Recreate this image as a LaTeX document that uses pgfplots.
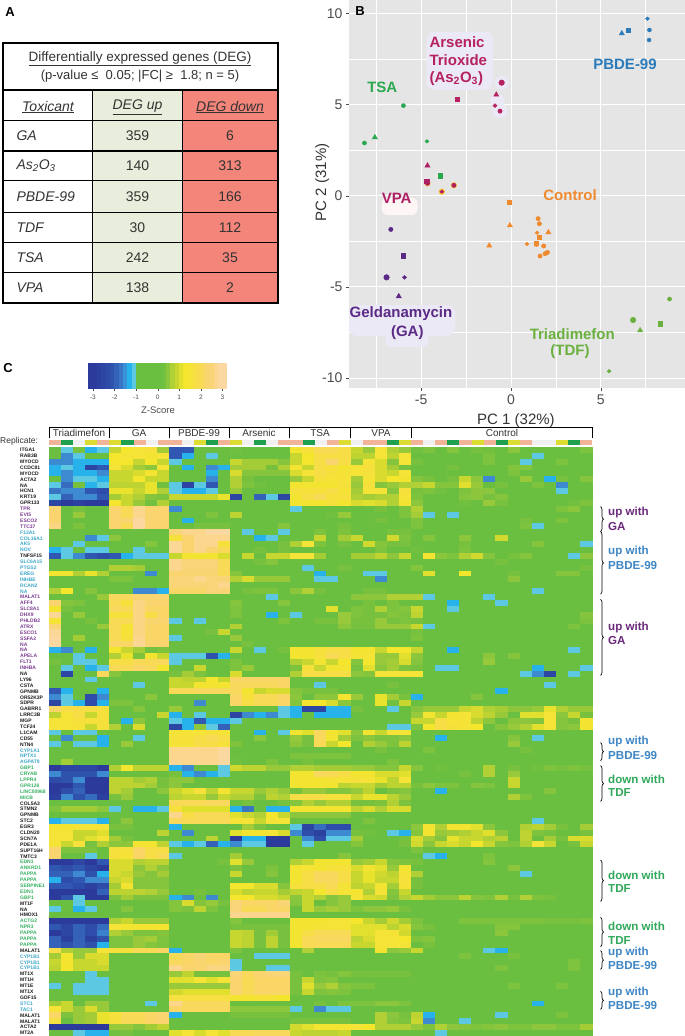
\documentclass[border=0pt]{standalone}
\usepackage{fontspec}
\setmainfont{Liberation Sans}
\usepackage{pgfplots}
\usepackage{pgfplotstable}
\pgfplotsset{compat=1.18}
\usetikzlibrary{decorations.pathreplacing}

\definecolor{tk}{HTML}{333333}
\definecolor{cPBDE}{HTML}{2B7BBA}
\definecolor{cAs}{HTML}{B5225F}
\definecolor{cTSA}{HTML}{2AA84F}
\definecolor{cVPA}{HTML}{AE1F63}
\definecolor{cGA}{HTML}{5B2A86}
\definecolor{cCtl}{HTML}{F08A2E}
\definecolor{cTDF}{HTML}{6AB03F}
\definecolor{halo}{HTML}{ECE9F6}
\definecolor{lblP}{HTML}{6B2A7A}
\definecolor{lblB}{HTML}{3F86C4}
\definecolor{lblG}{HTML}{2FA85A}
\definecolor{gk}{HTML}{1A1A1A}
\definecolor{gp}{HTML}{7A3A90}
\definecolor{gb}{HTML}{3AA6C9}
\definecolor{gg}{HTML}{35B060}
\definecolor{repS}{HTML}{F2B498}
\definecolor{repG}{HTML}{1FA04F}
\definecolor{repW}{HTML}{F0F0F0}
\definecolor{repY}{HTML}{DCDC32}

\pgfplotsset{
  colormap={heat}{
    rgb255(0pt)=(43,58,155)
    rgb255(5pt)=(48,88,178)
    rgb255(10pt)=(62,138,208)
    rgb255(15pt)=(40,178,236)
    rgb255(18pt)=(92,200,226)
    rgb255(19pt)=(106,190,64)
    rgb255(30pt)=(106,190,64)
    rgb255(35pt)=(140,198,60)
    rgb255(40pt)=(200,214,48)
    rgb255(45pt)=(243,230,45)
    rgb255(50pt)=(248,222,70)
    rgb255(55pt)=(250,212,110)
    rgb255(60pt)=(251,216,160)
  },
}
\pgfdeclareplotmark{cell}{\pgfpathrectangle{\pgfpoint{-6.3pt}{-3.1pt}}{\pgfpoint{12.6pt}{6.2pt}}\pgfusepathqfill}
\pgfdeclareplotmark{barcell}{\pgfpathrectangle{\pgfpoint{-2.4pt}{-13pt}}{\pgfpoint{4.8pt}{26pt}}\pgfusepathqfill}

% one line per gene: Triadimefon, GA, PBDE-99, Arsenic, TSA, VPA (5 each), Control (15)
\pgfplotstableread[header=false]{
0 -1.2 .2 -1.5 -1.2  1 1.5 1.7 1.8 .7  -2.5 -2.5 0 0 0  .1 0 0 0 0  1.6 1.8 2.2 2.2 2  1 .6 1.7 .8 .6  .1 .3 0 .4 0 .2 .1 0 .5 0 0 0 0 0 .3
0 -2 -1.2 0 0  1.5 1.7 1.7 1.6 1.7  -2.5 -1.5 0 -1.2 0  0 0 0 0 0  1 1.5 2 2 2  .9 .9 1.7 .9 1.7  0 0 0 0 0 0 .3 0 0 0 -1.2 0 0 0 0
-2 -2 -1.5 -1.5 -1.5  1.5 1.5 1 1.5 1  -1.2 0 0 0 0  1 .7 .7 .7 .4  1 1.5 2 2.5 2  .6 1.7 1.2 .4 1.7  .2 0 0 0 0 0 .3 0 0 -1.2 0 0 .3 0 0
-1.5 -1.2 -1.5 -2.8 -2.5  1.7 1.2 .7 .5 1.7  0 -1.5 0 -2 -1.5  .7 .7 .7 .2 .8  1.6 1 2 1.8 1.6  1.7 1.8 1.2 .7 .2  0 0 0 .2 0 0 0 0 .4 .4 0 0 0 0 0
-1.5 -2 -1.5 -1.5 -2  1 1 1.2 1.6 1  0 0 0 -1.5 0  1.2 .4 .4 .4 .4  1.2 1.7 2 1.8 1.7  1.7 1.8 1.2 1 1.7  0 0 0 0 0 0 0 0 .3 0 0 0 0 0 0
0 -2 -1.2 -1.2 -1.5  1 1 1.5 1 1  0 0 0 -2 0  .8 .2 0 0 0  .6 1 1.8 1.7 1.7  .7 1.7 1.2 1.5 1.6  .4 .2 0 .2 1 .5 -2 0 0 .6 0 -1.5 .2 0 .4
-1.2 -2.3 .2 -1.5 -1.2  .9 .9 .9 1.4 .1  -1.2 -2.8 -1.2 -2.5 0  .8 .3 .1 0 0  1.6 1.6 1.6 1.6 1.8  .6 1.8 .4 .6 .8  .8 1 .4 .4 1.3 .6 0 .2 0 0 .3 0 -2 0 0
-2.2 -2 -2 -2.5 -2.7  1.4 1.4 1 1.4 .8  -1.2 -1.5 -1.5 -1.2 0  .6 0 0 0 0  1.8 1.8 1.8 2 1.7  .7 1.7 1.7 .4 1.8  .2 .3 .1 0 .3 .5 .5 0 0 0 0 0 -1.2 0 0
-1.2 -2.4 -2 -2 -2.5  .7 1 .8 .4 .3  1 1 1 1 1.4  -2.8 0 -2.4 -1.2 -2.8  1.6 2 2.2 1.8 1.8  .8 .7 .8 .8 1.7  .3 0 0 0 .4 .5 .2 .4 0 0 0 0 0 0 0
-2.8 -3 -2.9 -3 -3  1.5 1 .6 .1 .8  0 0 0 0 0  0 0 0 0 0  1.6 1.6 1.6 1.8 1.6  1.2 1.3 1.2 .8 1.6  .5 0 0 0 .1 0 .6 .2 0 0 0 0 0 .1 .3
2.5 0 .2 0 0  2.5 2.2 2.8 2.5 2.5  -2 0 0 0 0  0 0 0 0 0  -1.2 0 0 0 0  0 0 .2 0 .3  .8 0 0 0 0 0 0 0 0 0 0 0 .3 .5 0
2.5 0 .6 0 0  2.5 2.2 2.8 2.5 2.5  0 0 0 .3 0  .9 0 0 0 0  0 0 0 .1 .6  0 0 0 0 .3  .7 -1.2 0 -1.2 0 0 0 0 0 0 0 0 0 0 0
2.5 0 0 0 0  2.5 2.5 3 2.5 2.5  0 -1.5 0 0 0  0 0 0 0 0  0 0 0 0 0  0 0 .2 0 0  .3 0 0 0 0 0 0 0 0 .2 0 0 .3 0 0
2.7 0 .3 0 0  2.5 2.2 3 2.5 2.5  0 0 .2 .2 .2  0 0 0 0 .4  0 0 0 0 .2  0 0 0 0 0  .3 0 0 0 0 0 0 0 0 .3 -1.2 0 0 0 0
0 0 0 0 0  0 0 0 0 0  2.6 2.8 2.8 3 3  0 -1.2 0 0 -1.2  0 0 .3 0 .3  0 0 0 .2 .2  0 0 0 0 0 0 0 0 0 0 0 0 0 0 0
0 0 0 -2 -1.2  .5 0 0 0 0  1.8 2.5 2.8 2.8 2.8  0 0 -1.5 -1.2 0  0 0 1 0 .7  1 0 0 1.1 .3  0 .4 0 0 .5 0 0 1.1 0 0 0 0 0 0 0
0 0 -1.2 0 0  0 0 0 .4 0  2.9 2.5 2.8 2.8 1.8  0 0 0 0 .2  .8 1.7 .3 0 .2  0 1.1 .4 .2 .2  0 0 0 0 .2 0 0 0 0 0 .4 0 0 0 -1.2
-1.5 -1.2 0 -1.2 -1.2  0 0 -1.2 0 0  2.9 2.5 2.8 2.5 2.2  0 0 .2 0 .2  0 0 0 0 0  0 0 .3 0 0  .1 0 0 0 .3 0 0 0 0 0 0 0 0 0 0
-2.5 -1.2 -2 -2.5 -2.7  -2.5 -1.5 -1.2 -1.2 -1.2  1 1.6 1.6 1.6 1.2  0 1 0 1 1  1.7 1.7 .7 0 0  .7 .7 .9 .5 1  0 1.6 .5 .3 .8 1.1 .4 0 .2 .4 0 0 0 -1.2 .5
0 0 0 0 0  0 0 0 0 0  2.8 2.6 2.6 2.6 2.2  0 0 .2 .4 0  0 0 0 0 0  0 0 0 0 0  0 0 0 0 0 0 0 .2 0 0 0 0 0 0 0
0 0 0 0 0  .8 .8 .7 0 0  2.8 2.6 2.6 2.6 2.2  0 0 0 0 0  0 -1.2 0 0 .2  0 0 0 0 0  .4 0 0 0 0 0 0 0 0 0 0 0 0 0 .2
1.6 1.6 .8 1.4 .8  0 0 0 -2 0  2.5 2.5 2.5 2.5 2.2  .4 0 0 0 0  0 0 -1.5 0 0  0 -1.2 -1.2 0 0  0 1.3 0 0 1.5 0 0 0 .2 0 0 0 .4 .4 0
0 0 0 0 0  .3 .3 0 0 0  2.6 2.6 2.8 2.6 2.6  .8 1.2 .6 .6 .6  0 0 -1.2 -1.2 0  0 0 -2 0 0  0 0 0 0 0 0 0 0 .5 0 0 0 0 0 0
0 0 0 0 0  0 0 0 0 0  2.6 2.6 2.6 2.6 2.8  0 0 0 0 0  0 0 0 0 0  0 0 0 0 0  0 0 0 0 0 0 0 0 0 0 0 0 0 0 0
.8 1.5 0 .4 0  0 0 -2 -2 -1.5  2.4 2.4 2.4 2.6 2.6  0 .2 .3 .3 0  .5 .8 .2 0 0  0 .2 .2 0 0  0 0 0 0 0 0 0 0 0 0 -1.2 0 0 0 0
0 0 0 0 .6  2.3 2.3 2.5 2.5 2.5  0 0 0 0 0  0 0 0 -1.2 0  0 0 0 0 0  .5 .5 .5 .8 .8  .8 -1.2 0 0 0 0 -1.2 0 0 0 0 0 0 0 0
2.5 .4 .3 0 0  2.2 1.8 2.7 2.5 2.5  0 0 0 0 0  .4 0 0 0 .4  0 0 0 0 0  0 .2 0 .3 0  0 0 0 -1.5 0 0 0 -1.2 0 0 0 0 0 0 0
1.6 .2 0 0 0  2.3 2.2 2.7 2.4 2.4  0 0 0 0 0  .3 0 0 0 0  0 0 0 1.3 0  .3 .2 .8 .3 .4  1 0 0 -1.2 0 0 0 0 0 0 0 0 0 0 0
2.9 0 .6 0 0  1.8 1.8 2.7 2 2.4  0 0 0 0 0  .3 0 0 -1.5 0  -1.2 0 0 0 .6  .3 .2 .2 .4 .3  .9 0 0 0 0 0 0 0 0 0 0 0 0 0 .4
1.7 0 0 .2 0  2.2 2.2 2.7 2.5 2.5  -1.2 0 -1.2 0 0  0 0 0 0 .3  0 0 .2 .2 .6  .2 .2 .6 .2 .3  .2 0 0 0 0 0 0 0 0 0 0 0 0 0 .3
2.6 0 0 0 .6  2.2 1.7 2.7 2.4 2.4  0 0 0 0 0  .8 0 0 0 0  0 0 0 0 .5  .2 .2 .6 .6 .6  1 -1.2 0 0 0 0 0 0 0 0 0 0 0 .3 0
2.9 0 0 0 0  2.2 1.7 2.7 2.4 2.4  0 0 0 .2 1  0 0 0 0 0  0 0 0 0 0  0 0 0 0 0  .2 0 0 0 0 0 0 0 0 0 0 0 0 0 0
3 0 .7 0 0  2.2 1.8 2.8 2.4 2.4  -1.2 0 0 0 0  .6 0 0 0 0  0 0 0 0 0  0 0 0 0 0  .3 0 0 0 0 0 0 0 0 0 0 0 0 0 0
3 0 0 0 0  2.4 2.4 2.9 2.5 2.5  0 0 0 0 0  0 .2 0 0 0  0 0 0 0 0  0 0 0 0 0  0 0 0 0 0 0 0 0 0 0 0 0 0 0 0
-1.5 -2 0 -1.5 0  1.5 1 .7 .1 .3  0 0 0 0 0  1 0 -1.2 0 .2  1.6 1.6 1.8 2 2  1.6 1.6 1 1.5 1.5  1 0 0 -1.5 0 0 0 0 0 0 0 0 0 -1.2 0
0 0 -1.2 0 0  .8 1.4 .3 1.6 1  -1.2 -1.2 -1.2 -2.6 -1.5  0 0 0 0 0  1.6 1.6 1.8 2.2 2  1.7 1.7 .6 .6 1.3  .5 0 0 0 0 0 .5 0 .4 0 0 0 0 0 0
.2 0 -1.2 -1.2 0  2 2 2.2 2.2 2.3  -1.2 0 0 0 0  .3 0 0 0 0  .8 1 1.6 1 1.5  .4 1.5 .6 .7 1.2  .4 0 0 0 0 0 .6 0 0 0 0 0 0 0 0
0 -1.2 0 -1.5 -1.2  2.2 2.2 2.4 2.3 1.6  0 0 1 0 0  .3 .6 0 0 0  .3 1.8 1 1.6 1.6  .2 1.3 .5 .7 .3  .2 0 -1.2 -1.2 0 0 0 0 0 0 -1.5 0 0 0 -1.2
0 -2.8 0 0 2.3  .4 0 0 0 0  .2 .7 .3 0 0  1.2 0 0 0 0  .8 2 2 2 2  .5 .4 1.7 1.7 1.7  1.7 0 0 0 0 0 0 0 0 -1.2 -2 -2.8 0 -1.2 0
0 0 0 -1.2 0  0 0 0 0 0  1 .9 .9 1.5 1  2.4 2.4 2.4 2.4 2.4  0 0 0 0 0  0 0 0 0 0  0 0 0 0 0 0 0 0 0 0 0 0 0 0 0
0 0 0 0 0  0 0 -1.2 0 0  1 1 1.6 1.6 1.6  2.3 2.3 2.3 2.3 2.4  0 0 -1.2 0 0  0 0 0 .2 0  0 0 0 0 0 0 0 0 0 0 0 -1.2 0 0 0
-2.5 -1.5 0 0 -1.5  0 0 0 0 0  2.2 2.2 2.3 2.3 2.3  2.3 1.6 1 1.2 1.2  .4 .2 .2 .2 0  0 0 0 0 0  0 0 0 0 0 0 0 -1.5 0 0 0 0 0 0 0
-2 -1.2 0 -2.7 -2  0 0 0 .5 0  0 0 0 0 0  2.4 1.8 2.2 2.2 2.4  .5 0 .5 .5 1.6  .6 0 1.4 .7 .2  -1.5 0 0 0 0 .4 0 0 0 0 0 0 0 0 0
-2.8 -1.2 -1.5 -2.7 -1.5  .3 .3 0 0 0  0 0 -2 0 0  2.4 2 2.2 2.2 2.4  .4 1.6 1.5 1.2 .5  0 0 1.4 .1 1  0 0 0 0 0 0 0 0 0 0 0 0 0 0 0
2.4 2 2 2 1.8  0 0 .4 0 0  .6 0 0 0 0  0 0 0 0 -1.2  -1.5 -2.8 -2.8 -1.5 -1.5  .2 0 0 -1.2 0  .4 .6 .6 .6 1 1.2 .8 .7 .5 .5 .6 1.4 .8 .6 .6
.9 1.7 2 1 1.8  0 0 0 0 1  -1.5 0 -1.2 0 0  -2.8 -2 -1.5 -2 -1.2  -1.5 0 -1.5 -1.5 -1.5  0 0 0 0 0  .6 1.6 1 1.6 1.7 1.2 .9 .6 0 1.3 1.3 1.7 .5 1 .2
1.7 1.7 1.8 1.8 1.8  0 -1.5 .5 0 0  -1.2 -1.5 -2.5 -1.5 -1.5  -1.2 0 0 0 0  0 0 0 0 0  0 0 0 0 0  1 1 2 1.7 1.7 .9 .5 0 .5 .5 .4 1.7 .4 .2 1.6
1.7 1.7 1.7 1 1.8  .8 0 1.2 0 0  -2.8 -1.5 .5 -1.2 -2.4  0 0 0 0 0  0 0 0 0 0  0 0 0 -1.2 -1.2  .3 1.5 2 1.8 1.7 1.5 0 .4 .6 .8 1.3 1.7 .4 .5 1.6
-1.2 0 -1.2 -1.2 0  0 0 0 0 0  1.7 1.7 1.7 1.8 1.7  0 0 -1.5 0 -1.2  1.6 1.3 2.3 1.6 1.3  .5 1.6 1 1.7 1.7  0 0 0 0 0 0 0 0 0 0 0 0 0 0 0
0 -2 0 0 -1.5  0 0 -1.2 0 0  1.8 1.8 2 2.2 2  0 0 .5 0 0  .6 .2 2.3 1.6 .7  .3 .5 .3 .3 .5  0 0 -1.5 0 0 0 0 0 .4 0 -1.2 0 0 0 0
-1.2 0 -1.2 -1.2 -1.5  0 .6 0 0 0  1.7 1.7 2 2 1.8  .3 0 0 0 0  .5 .2 2.2 1 1.5  0 .8 .6 .3 .9  0 0 0 0 0 0 0 0 .6 0 0 0 0 0 0
0 0 0 0 0  0 0 0 0 0  2.8 2.8 2.8 2.8 3  0 0 0 0 0  0 0 0 0 0  0 0 .2 0 0  0 .3 0 0 0 0 0 0 0 .2 0 0 0 0 0
0 0 0 0 0  0 0 0 0 0  2.8 2.8 2.8 2.8 3  0 0 0 0 0  .3 .3 .3 .3 .3  0 0 0 0 0  0 0 0 0 0 0 0 0 0 0 0 0 0 0 0
0 .7 0 0 0  0 0 0 0 0  2.9 2.8 2.8 2.8 3  .1 0 0 .3 0  0 .2 0 0 0  0 0 0 .3 0  0 0 0 0 0 0 0 0 0 0 0 0 0 0 0
-3 -2.8 -2.8 -2.8 -3  .8 1.5 .9 .9 .9  -1.5 -2 0 0 -1.2  1.1 .9 .9 .6 .6  .8 .8 .7 .7 .7  .6 .6 .4 .4 1  .4 0 .1 0 0 0 .8 0 .2 0 .1 .3 .2 .3 .2
-2 -2.6 -2.6 -2.6 -2  0 0 0 0 0  .2 -1.5 -2 -1.5 -1.2  0 0 0 0 0  1.6 1.6 2.3 2.2 2  1.6 1.6 1.2 1.2 1.3  0 0 0 0 .2 0 .8 0 .6 0 0 0 0 0 0
-2.7 -2.6 -2 -3 -3  .9 .9 .7 .8 .2  .5 .5 0 0 0  0 0 0 0 0  1.6 1.6 1.6 1.7 1.7  1.8 1.7 1.4 .9 1.7  0 0 0 0 0 0 0 0 1 0 0 0 0 0 0
-3 -3 -2.5 -3 -3  .9 .9 .9 .7 .2  .5 0 0 0 0  0 0 0 0 0  1.6 1.6 1.6 1.6 .9  1 1 .7 .9 .9  .2 .5 .3 .3 0 .4 .3 0 1 0 0 0 0 0 0
-3 -2.7 -2.4 -3 -3  .9 .7 0 0 .5  1 1.3 1.8 .9 1.6  1 1 .6 .8 .6  .2 .6 .6 .4 .4  .6 .9 0 .3 .4  0 0 -1.5 0 0 0 0 0 0 0 0 .4 0 0 0
-2.9 -2 -2.6 -2.3 -2.9  .2 .6 0 0 0  .9 1 1 .6 1  .8 .8 .3 .9 .8  2 2 2 1.8 1.8  1 1.4 1.4 .9 .6  0 0 0 0 0 0 0 0 .8 .3 0 0 0 0 0
0 0 0 0 0  0 0 0 0 0  2.2 2.2 2.2 2.3 2.3  0 .2 0 0 .2  .4 .8 .6 .8 .8  .2 .2 .3 .8 .3  0 0 0 0 0 0 0 0 0 0 0 0 0 0 0
.3 .7 .7 .7 .5  -1.2 0 -1.5 -1.5 -1.2  1.8 1.3 1.3 1.3 1.3  -1.5 -2.2 0 -1.5 -1.5  1.6 1.6 1.6 1.6 1.6  .9 1.2 .8 1.2 1.2  0 0 0 0 0 0 0 0 0 0 0 0 0 0 0
0 0 0 0 0  0 0 0 0 0  2.8 2 2.2 2.2 2.2  1.3 1 .8 1.5 1  .5 .5 .5 .5 .5  0 0 0 0 0  0 0 0 0 0 0 0 0 0 0 0 0 0 0 0
-1.5 -1.2 -1.2 -1.2 -1.5  0 .5 0 0 0  2.3 2.2 2.2 2.2 2.2  1.7 1.7 1 1.7 1.7  0 0 0 0 0  0 .3 0 0 0  0 0 0 0 0 0 0 0 0 0 -1.2 0 0 0 0
1.6 1.6 1.7 1.7 1.7  .2 .2 0 0 0  -1.5 0 0 0 0  0 .7 .3 0 0  -1.2 -2.8 -2.3 -2.7 -2.7  0 0 0 0 0  .5 1.6 .8 1.6 1.6 1.3 .5 0 0 .8 .9 .7 .2 0 .7
1.7 1.7 1 1 1.3  0 0 0 0 .9  0 -2 0 0 0  1.3 1.6 1.6 1.7 1.2  -2 -2.7 -2.9 -2 -2  .2 .1 0 -1.2 -1.5  .4 1.6 .6 .7 .8 1 1.3 .5 0 .9 .3 .2 0 0 .2
1.7 1.7 1 1.3 1.7  .7 .2 0 0 0  0 0 0 .9 0  -3 -1.5 -1.5 -3 -3  0 -2 -2.7 -1.2 -1.2  .7 0 0 0 .2  1.2 .7 .4 1.4 1 1 .8 .9 0 .9 0 .7 .2 1.2 1.2
1.7 1 1.8 .2 .8  .5 .5 1.6 1.6 .9  -1.2 -1.5 -1.2 -2.4 -1.5  -2 -1.2 -1.2 -3 -3  0 -1.2 0 0 0  .4 0 0 0 .2  1.1 .5 1 1.2 1 1.5 1 .4 .3 .8 1.7 1 0 .2 1
2.5 .3 .3 .3 0  1.8 1.8 2.4 2 2  0 0 0 0 0  0 0 0 0 0  0 0 0 0 0  0 0 0 0 0  .3 0 0 0 0 0 0 0 0 0 0 0 0 0 0
2.5 0 0 -1.2 0  1.8 1.7 2.4 2 2.2  -1.2 0 0 0 0  .7 0 0 0 0  0 0 0 0 .4  0 0 0 0 0  0 -1.2 -1.5 0 0 0 .3 0 0 0 0 0 0 0 0
-3 -3 -2.8 -3 -2.5  1.2 1.2 .8 .9 .9  0 0 0 0 .2  1.3 .6 0 0 0  .8 1 1.6 1.6 1.6  .6 .7 1 .4 .3  .2 0 0 0 0 0 .4 0 0 0 0 0 0 0 0
-2.5 -2.7 -2.5 -2.8 -3  1.2 1.2 .5 .8 .5  0 0 0 0 0  .3 0 0 .3 0  1.6 1.7 1.6 1.8 1.8  1.2 1.6 1.3 .6 1.6  0 0 0 0 0 0 0 0 .5 0 0 0 0 0 0
-2.4 -2.4 -2 -2.6 -1.5  1.2 1 .6 .4 .7  0 0 0 0 0  1 0 0 .4 0  1.6 2 2.3 2.3 2  1 1.4 1.1 .9 1.7  .8 0 0 0 0 0 0 0 0 -1.2 0 0 0 0 0
-1.5 -2.7 -2.5 -2 -2  1 1.2 .4 .4 .4  0 0 0 0 0  0 0 0 0 0  1.6 2 2.3 2.3 2  1 1.4 1 1 1.8  .2 0 0 0 0 0 0 0 0 0 0 0 0 0 0
-2.5 -2.5 -2.7 -2.9 -2.7  .7 1.6 .4 .4 .4  0 0 0 0 0  1.5 1.5 1.2 1.2 .4  1.8 2 2 2.2 1.7  .9 1 1.6 .7 1.7  .2 0 0 0 0 0 0 0 0 0 0 0 0 0 0
-3 -3 -3 -3 -2.4  .9 .9 .9 .8 .6  0 0 .2 0 0  1.2 .9 1 1 .7  .9 1 1.5 2 1.7  1.6 .8 1.7 .4 1  0 0 0 0 0 0 0 0 0 0 0 0 0 0 0
-3 -2.6 -1.2 -3 -3  .3 .7 .3 .3 .3  -1.5 -2 0 -2 0  1.5 1.5 1.2 1.2 1  .5 1 .8 .4 .6  1.7 1.2 1.1 .3 .8  1 .7 .5 .5 .9 .4 .3 .8 .2 .8 .3 .2 0 0 0
0 0 -1.2 0 0  0 0 0 0 0  .4 1.2 .4 .6 .2  2.6 2.4 2.4 2.4 2.6  .4 1 0 .4 .6  0 0 0 0 0  0 0 0 0 0 0 0 0 0 0 0 0 0 0 0
-1.2 0 -1.5 -1.2 0  0 .4 0 0 0  .4 .3 .9 .3 0  2.6 2.2 2.2 2.4 2.4  0 1 .6 .7 .6  .3 .5 .5 .6 .2  0 0 0 0 0 0 0 0 0 0 0 0 0 0 0
0 0 0 0 0  0 0 0 0 0  0 0 0 0 0  2.8 2.8 2.8 2.8 2.8  0 0 0 0 0  0 0 0 0 0  0 0 0 0 0 0 0 0 0 0 0 0 0 0 0
-3 -3 -3 -3 -3  .8 1 .6 .6 .6  0 0 0 0 0  .4 0 0 0 0  1.6 1.6 1.6 1.7 1.7  1.5 1 .7 1.1 .7  .3 0 0 0 .3 .3 .3 .3 .3 .3 .3 .2 .2 .2 .3
-2.5 -2.8 -2.4 -2.7 -2.3  1.7 1.6 1.6 1.6 1.6  0 0 0 0 0  .2 .2 .2 .2 .2  1.6 1.6 1.7 1.7 1.7  1.3 1.3 1.3 .9 1.2  .4 .2 0 0 0 0 0 .4 .4 0 0 0 0 0 0
-3 -2.8 -2.4 -2.7 -2.1  .8 .6 .3 .3 .4  0 0 0 0 0  1 .9 .2 .7 .2  1.6 2 2.2 2.2 2.2  1.3 1.3 1.7 1.7 1.1  0 0 0 0 0 0 0 .5 0 0 0 0 0 0 0
-2.4 -2.9 -2.4 -2.9 -2.6  .3 .3 .6 .7 .3  0 0 0 0 0  1 .9 .2 .9 .2  1.6 2.2 2.3 2.3 2.3  .9 1.2 1.7 1.7 1.5  .3 .4 0 0 0 0 0 0 0 0 0 0 0 0 0
-2.4 -2.6 -2.4 -2.6 -1.5  .3 .3 .6 .4 .3  0 0 0 0 0  1 .9 .2 .9 .2  1.6 2.2 2.2 2.2 2.2  1 1 1.7 1.7 1.7  0 .2 0 0 0 0 0 0 0 0 0 0 0 0 0
2 .8 .6 .6 1.7  1.8 1.8 2.2 2.2 2.4  -1.5 0 0 0 0  .3 0 0 0 0  0 .8 0 0 0  0 0 1.6 .5 .6  1 0 0 0 0 0 -1.2 -1.5 0 0 0 0 0 0 0
.7 1.5 .6 1.2 1.2  0 0 0 0 0  2.2 2.4 2.6 2.4 2.4  0 0 -1.2 -1.2 -1.2  0 0 0 0 0  0 0 0 0 0  0 0 0 0 .3 0 0 0 .2 0 0 0 0 0 0
1 1.6 1 1 1.2  0 0 0 0 0  2.3 2.4 2.5 2.4 2.5  -1.2 0 0 0 0  0 0 0 0 0  0 0 0 0 0  0 0 0 0 0 0 0 0 0 0 0 0 0 .3 0
.9 1.5 1 1 1  0 0 0 0 0  2.8 2.5 2.5 2.7 2.7  -1.2 0 0 -1.2 -1.2  0 0 0 0 0  0 0 0 0 0  0 0 0 0 0 0 0 .3 0 0 0 0 0 .3 0
0 0 0 -1.2 0  0 0 0 0 0  .6 .9 .2 .2 .2  2.6 2.3 2.5 2.6 2.6  .2 0 .3 .2 .4  .2 .2 .2 .2 .2  0 0 0 0 0 0 0 0 0 0 0 0 0 0 0
0 0 0 -1.2 -1.2  0 0 0 0 0  1.3 1.3 1.7 1.3 1.7  2.5 2.2 2.4 2.4 2.4  .2 1 .3 .4 0  0 0 0 0 0  0 0 0 0 0 0 0 0 0 0 0 0 0 0 0
-1.2 0 -1.2 -1.2 -1.2  0 0 0 0 0  .6 .6 .6 .6 .6  2.5 2.2 2.4 2.4 2.4  .2 1.3 .6 .8 .4  .3 .3 0 0 0  0 0 0 0 0 0 0 0 .3 0 0 0 .3 0 0
0 0 -1.2 -1.2 -1.2  0 0 0 0 0  1.1 1.3 1.3 1.3 1.3  2.5 2.2 2.4 2.4 2.4  .2 1 .3 .4 .3  0 0 0 0 0  0 0 0 0 0 0 0 0 0 0 0 0 0 0 0
0 0 0 0 0  0 0 0 0 0  1.9 1.9 1.9 1.9 1.9  1.6 1.6 1.7 1.7 1.5  0 0 0 0 0  0 0 0 0 0  0 0 0 0 0 0 0 0 0 0 0 0 0 0 0
.7 1 0 .6 .6  0 0 0 -1.2 0  2.8 2.3 2.3 2.3 2.3  0 0 0 0 0  0 0 .2 0 .3  .3 .3 .5 .5 .3  0 0 0 0 0 0 0 0 0 0 -1.5 0 0 0 0
1.7 1 .6 1.2 .6  0 0 0 0 0  2.4 2.3 2.3 2.3 2.3  .5 .5 .5 .5 .5  -1.2 0 -2 -1.2 -1.2  0 0 0 0 0  0 0 0 0 0 0 0 0 0 0 0 0 0 0 0
2.4 .3 .6 .7 1.4  1.8 2.2 2.2 2.4 2.5  -1.5 0 0 0 0  .2 .2 .2 .2 .2  0 0 0 0 0  0 0 .8 .5 .2  .9 -1.5 0 0 0 0 0 -1.2 0 0 0 0 .3 0 0
1.9 0 .6 .7 1.4  1.8 2.2 2.2 2.4 2.5  0 0 0 0 0  0 0 0 0 0  .2 .2 .2 .2 .2  0 0 .8 .4 .3  1 -2 0 0 -1.2 0 0 0 0 0 0 0 0 0 0
-3 -3 -3 -3 -3  .6 .6 .4 .7 .9  0 0 0 0 0  0 0 0 0 0  1.1 1.3 1.6 1.6 1.6  1.7 1.5 .8 .8 .8  .6 .3 .8 .5 .4 .3 .4 .5 .3 .3 .5 .5 .3 .3 .7
0 0 -1.2 -1.5 -1.5  .1 .2 0 0 0  1.3 1.7 1.2 1.7 1.3  2.2 2.2 2.3 2.3 2.3  1 .9 .9 .9 1  0 0 0 0 0  0 0 -1.2 0 0 0 0 0 0 0 0 0 0 0 0
}\heat

% colour bar: position on the scale and the z value drawn there
\pgfplotstableread{
x z
-3.1 -3
-2.9 -3
-2.7 -2.9
-2.5 -2.8
-2.3 -2.7
-2.1 -2.6
-1.9 -2.4
-1.7 -2.2
-1.5 -1.9
-1.3 -1.5
-1.1 -1.2
-0.9 0
-0.7 0
-0.5 0
-0.3 0
-0.1 0
0.1 0
0.3 0.1
0.5 0.5
0.7 0.8
0.9 1
1.1 1.3
1.3 1.5
1.5 1.7
1.7 1.9
1.9 2.1
2.1 2.3
2.3 2.5
2.5 2.6
2.7 2.8
2.9 3
3.1 3
}\zbar

\begin{document}
\begin{tikzpicture}
\useasboundingbox (0pt,0pt) rectangle (685pt,-1036pt);

% B: PCA
\begin{axis}[
  at={(349pt,-388pt)}, anchor=south west,
  scale only axis, width=336pt, height=388pt,
  xmin=-9.02, xmax=9.69, ymin=-10.55, ymax=10.735,
  axis background/.style={fill=black!10},
  axis line style={draw=none},
  xtick={-5,0,5}, ytick={-10,-5,0,5,10},
  minor xtick={-7.5,-2.5,2.5,7.5}, minor ytick={-7.5,-2.5,2.5,7.5},
  grid=both,
  major grid style={white,line width=.8pt},
  minor grid style={white,line width=.4pt},
  tick pos=left, tick align=outside, major tick length=3pt, minor tick length=0pt,
  tick style={draw=black!70},
  /pgf/number format/assume math mode=true,
  tick label style={font=\fontsize{14}{14}\selectfont, text=black!70},
  xlabel={PC 1 (32\%)}, ylabel={PC 2 (31\%)},
  label style={font=\fontsize{15}{15}\selectfont, text=tk},
  xlabel style={at={(axis description cs:.497,-.085)}, anchor=center},
  ylabel style={at={(axis description cs:-.08,.53)}, anchor=center},
  clip=false,
]
\fill[halo,rounded corners=8pt] (axis cs:-4.7,9) rectangle (axis cs:-1,5.8);
\fill[halo,rounded corners=8pt] (axis cs:-9,-6) rectangle (axis cs:-3.1,-7.7);
\fill[halo,rounded corners=6pt] (axis cs:-7,-7.4) rectangle (axis cs:-4.6,-8.3);
\fill[black!10!red!4,rounded corners=6pt] (axis cs:-7.2,-.1) rectangle (axis cs:-5.2,-1.06);
\addplot[only marks,mark=*,mark size=7pt,halo] coordinates {(-0.52,6.2) (-0.75,5.2) (-0.61,4.64)};
\addplot[only marks,mark=*,mark size=2.9pt,yellow!50!orange!80] coordinates {(-4.65,0.68) (-3.18,0.57) (-3.85,0.22)};

\addplot[only marks,cPBDE,mark=*,mark size=2pt] coordinates {(7.71,9.09) (7.69,8.54)};
\addplot[only marks,cPBDE,mark=diamond*,mark size=1.8pt,mark options={xscale=1.5}] coordinates {(7.6,9.71)};
\addplot[only marks,cPBDE,mark=square*,mark size=2pt] coordinates {(6.54,9.07)};
\addplot[only marks,cPBDE,mark=triangle*,mark size=3pt] coordinates {(6.17,8.9)};

\addplot[only marks,cAs,mark=*,mark size=2.8pt] coordinates {(-0.52,6.2)};
\addplot[only marks,cAs,mark=*,mark size=2.2pt] coordinates {(-0.61,4.64)};
\addplot[only marks,cAs,mark=diamond*,mark size=1.9pt,mark options={xscale=1.5}] coordinates {(-0.89,4.94)};
\addplot[only marks,cAs,mark=square*,mark size=2.2pt] coordinates {(-3.01,5.3)};
\addplot[only marks,cAs,mark=triangle*,mark size=3pt] coordinates {(-0.82,5.54)};

\addplot[only marks,cTSA,mark=*,mark size=2.1pt] coordinates {(-5.99,4.94) (-8.16,2.89)};
\addplot[only marks,cTSA,mark=diamond*,mark size=1.8pt,mark options={xscale=1.5}] coordinates {(-4.68,2.98)};
\addplot[only marks,cTSA,mark=square*,mark size=2.2pt] coordinates {(-3.94,1.1)};
\addplot[only marks,cTSA,mark=triangle*,mark size=3pt] coordinates {(-7.58,3.2)};

\addplot[only marks,cVPA,mark=*,mark size=2.2pt] coordinates {(-4.65,0.68) (-3.18,0.57)};
\addplot[only marks,cVPA,mark=diamond*,mark size=1.8pt,mark options={xscale=1.5}] coordinates {(-3.85,0.22)};
\addplot[only marks,cVPA,mark=square*,mark size=2.2pt] coordinates {(-4.7,0.79)};
\addplot[only marks,cVPA,mark=triangle*,mark size=3pt] coordinates {(-4.65,1.65)};

\addplot[only marks,cGA,mark=*,mark size=2.2pt] coordinates {(-6.69,-1.85)};
\addplot[only marks,cGA,mark=*,mark size=2.8pt] coordinates {(-6.93,-4.48)};
\addplot[only marks,cGA,mark=diamond*,mark size=1.9pt,mark options={xscale=1.5}] coordinates {(-5.93,-4.48)};
\addplot[only marks,cGA,mark=square*,mark size=2.4pt] coordinates {(-6,-3.29)};
\addplot[only marks,cGA,mark=triangle*,mark size=3pt] coordinates {(-6.25,-5.52)};

\addplot[only marks,cCtl,mark=*,mark size=2.2pt] coordinates {(1.51,-1.26) (1.58,-1.54) (1.41,-2.67) (1.82,-2.76) (2.03,-3.11) (1.9,-3.18) (1.62,-3.31)};
\addplot[only marks,cCtl,mark=diamond*,mark size=1.8pt,mark options={xscale=1.5}] coordinates {(1.45,-2.03) (0.89,-2.65)};
\addplot[only marks,cCtl,mark=square*,mark size=2.2pt] coordinates {(-0.11,-0.35) (1.56,-2.27) (1.41,-2.61)};
\addplot[only marks,cCtl,mark=triangle*,mark size=3pt] coordinates {(-0.06,-1.63) (-1.21,-2.74) (2.08,-2.01)};

\addplot[only marks,cTDF,mark=*,mark size=2.1pt] coordinates {(8.83,-5.67)};
\addplot[only marks,cTDF,mark=*,mark size=2.8pt] coordinates {(6.8,-6.82)};
\addplot[only marks,cTDF,mark=diamond*,mark size=1.8pt,mark options={xscale=1.5}] coordinates {(5.46,-9.63)};
\addplot[only marks,cTDF,mark=square*,mark size=2.4pt] coordinates {(8.31,-7.04)};
\addplot[only marks,cTDF,mark=triangle*,mark size=3pt] coordinates {(7.19,-7.39)};
\end{axis}

% C: colour bar
\begin{axis}[
  at={(89.3pt,-388.3pt)}, anchor=south west,
  scale only axis, width=137pt, height=25pt,
  xmin=-3.17, xmax=3.18, ymin=0, ymax=1,
  axis y line=none, axis x line=bottom, axis line style={-,draw=black!60},
  colormap name=heat, point meta min=-3, point meta max=3,
  xtick={-3,-2,-1,0,1,2,3}, tick align=outside, major tick length=3pt,
  tick style={draw=black!70},
  /pgf/number format/assume math mode=true,
  tick label style={font=\fontsize{6.5}{6.5}\selectfont, text=black!70},
  clip=false,
]
\addplot[scatter, only marks, mark=barcell, scatter src=explicit,
  scatter/use mapped color={draw=none,fill=mapped color}]
  table[x=x, y expr=.5, meta=z] {\zbar};
\end{axis}

% C: heat map
\begin{axis}[
  at={(49pt,-1036pt)}, anchor=south west,
  scale only axis, width=543.3pt, height=589pt,
  xmin=0, xmax=45, ymin=0, ymax=100, y dir=reverse,
  hide axis,
  colormap name=heat, point meta min=-3, point meta max=3,
]
\pgfplotsinvokeforeach{0,...,44}{
  \addplot[scatter, only marks, mark=cell, scatter src=explicit,
    scatter/use mapped color={draw=none,fill=mapped color}]
    table[x expr=#1+.5, y expr=\coordindex+.5, meta index=#1] {\heat};
}
\end{axis}

\begin{scope}[x=1pt,y=-1pt]
% panel letters
\node[font=\bfseries\fontsize{13}{13}\selectfont] at (10,12) {A};
\node[font=\bfseries\fontsize{13}{13}\selectfont] at (360,11) {B};
\node[font=\bfseries\fontsize{13}{13}\selectfont] at (8,368) {C};

% A: table
\fill[fill={rgb,255:red,232;green,238;blue,219}] (92.3,90) rectangle (182.3,303.3);
\fill[fill={rgb,255:red,244;green,133;blue,122}] (182.3,90) rectangle (277.7,303.3);
\node[text=tk,font=\fontsize{13.5}{13.5}\selectfont] at (140,59) {\underline{Differentially expressed genes (DEG)}};
\node[text=tk,font=\fontsize{13}{13}\selectfont] at (140,76.5) {(p-value ≤\ \ 0.05; |FC| ≥\ \ 1.8; n = 5)};
\node[text=tk,font=\itshape\fontsize{14}{14}\selectfont] at (48,107) {\underline{Toxicant}};
\node[text=tk,font=\itshape\fontsize{14}{14}\selectfont] at (137.5,107) {\underline{DEG up}};
\node[text=tk,font=\itshape\fontsize{14}{14}\selectfont] at (230,107) {\underline{DEG down}};
\foreach \n/\u/\d/\yy in {GA/359/6/136,{As\textsubscript{2}O\textsubscript{3}}/140/313/166,PBDE-99/359/166/197,TDF/30/112/228,TSA/242/35/258,VPA/138/2/288}{
  \node[anchor=west,text=tk,font=\itshape\fontsize{14}{14}\selectfont] at (13,\yy) {\n};
  \node[text=tk,font=\fontsize{14}{14}\selectfont] at (137.5,\yy) {\u};
  \node[text=tk,font=\fontsize{14}{14}\selectfont] at (230,\yy) {\d};
}
\draw[line width=1.4pt] (2.7,90) -- (277.7,90) (2.7,120.7) -- (277.7,120.7) (2.7,151) -- (277.7,151) (2.7,180.7) -- (277.7,180.7) (2.7,212.7) -- (277.7,212.7) (2.7,242.7) -- (277.7,242.7) (2.7,272.7) -- (277.7,272.7);
\draw[line width=1.4pt] (92.3,90) -- (92.3,303.3) (182.3,90) -- (182.3,303.3);
\draw[line width=1.8pt] (2.7,42.7) rectangle (277.7,303.3);

% B: cluster names
\begin{scope}[every node/.style={font=\bfseries\fontsize{15}{15}\selectfont}]
\node[cPBDE] at (625,64.5) {PBDE-99};
\node[cAs,anchor=west] at (426,42.3) {Arsenic};
\node[cAs,anchor=west] at (426,60.3) {Trioxide};
\node[cAs,anchor=west] at (426,78.7) {(As\textsubscript{2}O\textsubscript{3})};
\node[cTSA] at (382.3,87.3) {TSA};
\node[cVPA] at (396.7,198.7) {VPA};
\node[cCtl] at (570,194.7) {Control};
\node[cGA] at (401,313.7) {Geldanamycin};
\node[cGA] at (407.3,332.3) {(GA)};
\node[cTDF] at (572.3,334) {Triadimefon};
\node[cTDF] at (570,352) {(TDF)};
\end{scope}

% C: colour bar title
\node[text=black!70,font=\fontsize{9.5}{9.5}\selectfont] at (158,410) {Z-Score};

% C: group header
\node[anchor=west,text=tk,font=\fontsize{8.5}{8.5}\selectfont,inner sep=0pt] at (0,441.5) {Replicate:};
\draw[line width=.7pt] (49,438) -- (49,427.3) -- (592.3,427.3) -- (592.3,438);
\foreach \xx in {109,169,229,289,350.8,411}{\draw[line width=.7pt] (\xx,427.3) -- (\xx,438);}
\foreach \t/\xx in {Triadimefon/79,GA/139,PBDE-99/199,Arsenic/259,TSA/320,VPA/381,Control/502}{
  \node[text=tk,font=\fontsize{10}{10}\selectfont] at (\xx,433) {\t};
}
\foreach \c [count=\i from 0] in {repS,repG,repW,repY,repS, repY,repG,repS,repW,repS, repS,repW,repY,repG,repS, repY,repW,repG,repW,repS, repS,repG,repW,repS,repY, repW,repS,repS,repG,repY, repS,repW,repS,repG,repS,repY,repS,repG,repY,repS,repW,repW,repY,repG,repS}{
  \fill[\c] ({49+\i*12.073},440) rectangle ({49+(\i+1)*12.073},445);
}

% C: gene names
\foreach \c/\n [count=\i from 0] in {gk/ITGA1,gk/RAB3B,gk/MYOCD,gk/CCDC81,gk/MYOCD,gk/ACTA2,gk/NA,gk/HCN1,gk/KRT19,gk/GPR133,
gp/TPR,gp/EVI5,gp/ESCO2,gp/TTC37,gb/F13A1,gb/COL16A1,gb/AK5,gb/NOV,gk/TNFSF15,gb/SLC6A15,
gb/PTGS2,gb/EREG,gb/INHBE,gb/RCAN2,gb/NA,gp/MALAT1,gp/AFF4,gp/SLC8A1,gp/DHX9,gp/PHLDB2,
gp/ATRX,gp/ESCO1,gp/SSFA2,gp/NA,gp/NA,gp/APELA,gp/FLT1,gp/INHBA,gk/NA,gk/LY96,
gk/CSTA,gk/GPNMB,gk/OR52K3P,gk/SDPR,gk/GABRR1,gk/LRRC3B,gk/MGP,gk/TCF24,gk/L1CAM,gk/CD55,
gk/NTN4,gb/CYP1A1,gb/NPTX1,gb/AGPAT9,gg/GBP1,gg/CRYAB,gg/LPPR4,gg/GPR126,gg/LINC00968,gg/MICB,
gk/COL5A3,gk/STMN2,gk/GPNMB,gk/STC2,gk/EGR3,gk/CLDN20,gk/SCN7A,gk/PDE1A,gk/SUPT16H,gk/TMTC3,
gg/EDN1,gg/ANKRD1,gg/PAPPA,gg/PAPPA,gg/SERPINE1,gg/EDN1,gg/GBP1,gk/MT1F,gk/NA,gk/HMOX1,
gg/ACTG2,gg/NPR3,gg/PAPPA,gg/PAPPA,gg/PAPPA,gk/MALAT1,gb/CYP1B1,gb/CYP1B1,gb/CYP1B1,gk/MT1X,
gk/MT1H,gk/MT1E,gk/MT1X,gk/GDF15,gb/STC1,gb/TAC1,gk/MALAT1,gk/MALAT1,gk/ACTA2,gk/MT2A}{
  \node[anchor=west,inner sep=0pt,\c,font=\bfseries\fontsize{5}{5}\selectfont] at (20,{447+(\i+.5)*5.89}) {\n};
}

% C: brackets on the right
\foreach \a/\b in {506.7/531.7,531.7/594,599.3/675.3,742.7/760.7,765.7/801.3,860/901.3,917.3/946.7,950.7/969.3,991.3/1009.3}{
  \draw[line width=.7pt,decorate,decoration={brace,amplitude=3pt}] (600.5,\a) -- (600.5,\b);
}
\begin{scope}[every node/.style={anchor=west,inner sep=0pt,font=\bfseries\fontsize{11.6}{11.6}\selectfont}]
\foreach \c/\t/\u/\ya/\yb in {lblP/up with/GA/512.7/526.7,lblB/up with/PBDE-99/551/565,lblP/up with/GA/627.3/640.7,lblB/up with/PBDE-99/741.7/755.7,lblG/down with/TDF/779/792.3,lblG/down with/TDF/875/888.3,lblG/down with/TDF/926.7/940.7,lblB/up with/PBDE-99/952/965.3,lblB/up with/PBDE-99/992/1005.3}{
  \node[\c] at (608,\ya) {\t};
  \node[\c] at (608,\yb) {\u};
}
\end{scope}
\end{scope}
\end{tikzpicture}
\end{document}
